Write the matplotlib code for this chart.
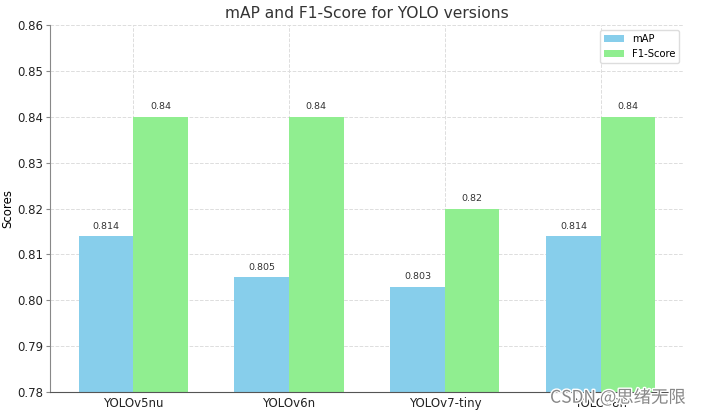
import matplotlib.pyplot as plt
import matplotlib.patheffects as pe
import numpy as np

models = ['YOLOv5nu', 'YOLOv6n', 'YOLOv7-tiny', 'YOLOv8n']
map_scores = [0.814, 0.805, 0.803, 0.814]
f1_scores = [0.84, 0.84, 0.82, 0.84]

x = np.arange(len(models))
width = 0.35

fig = plt.figure(figsize=(7.01, 4.15), dpi=100)
ax = fig.add_axes([0.071, 0.055, 0.905, 0.885])

bars1 = ax.bar(x - width / 2, map_scores, width, label='mAP', color='skyblue', zorder=2)
bars2 = ax.bar(x + width / 2, f1_scores, width, label='F1-Score', color='lightgreen', zorder=2)

for bars in (bars1, bars2):
    for b in bars:
        h = b.get_height()
        ax.annotate(f'{h:g}', xy=(b.get_x() + b.get_width() / 2, h),
                    xytext=(0, 4), textcoords='offset points',
                    ha='center', va='bottom', fontsize=6.8, color='#333333')

ax.set_ylim(0.78, 0.86)
ax.set_xticks(x)
ax.set_xticklabels(models)
ax.set_ylabel('Scores', fontsize=8.5, labelpad=2)
ax.set_title('mAP and F1-Score for YOLO versions', fontsize=11.2, color='#333333', pad=5)
ax.grid(True, linestyle='--', color='#dddddd', linewidth=0.7, zorder=0)
ax.set_axisbelow(True)
for s in ('top', 'right'):
    ax.spines[s].set_visible(False)
ax.spines['left'].set_color('#888888')
ax.spines['bottom'].set_color('#555555')
ax.tick_params(axis='both', labelsize=8.5, colors='#222222')
ax.tick_params(axis='y', color='#888888', length=3, pad=1.5)
ax.tick_params(axis='x', length=0)
ax.legend(loc='upper right', fontsize=7.2, framealpha=1, edgecolor='#dddddd')

fig.text(0.978, 0.02, 'CSDN @思绪无限', ha='right', va='bottom', fontsize=12.5,
         color='#888888', family=['Noto Sans CJK SC', 'DejaVu Sans'],
         path_effects=[pe.withStroke(linewidth=2, foreground='white')])

fig.savefig('out.png', dpi=100)
